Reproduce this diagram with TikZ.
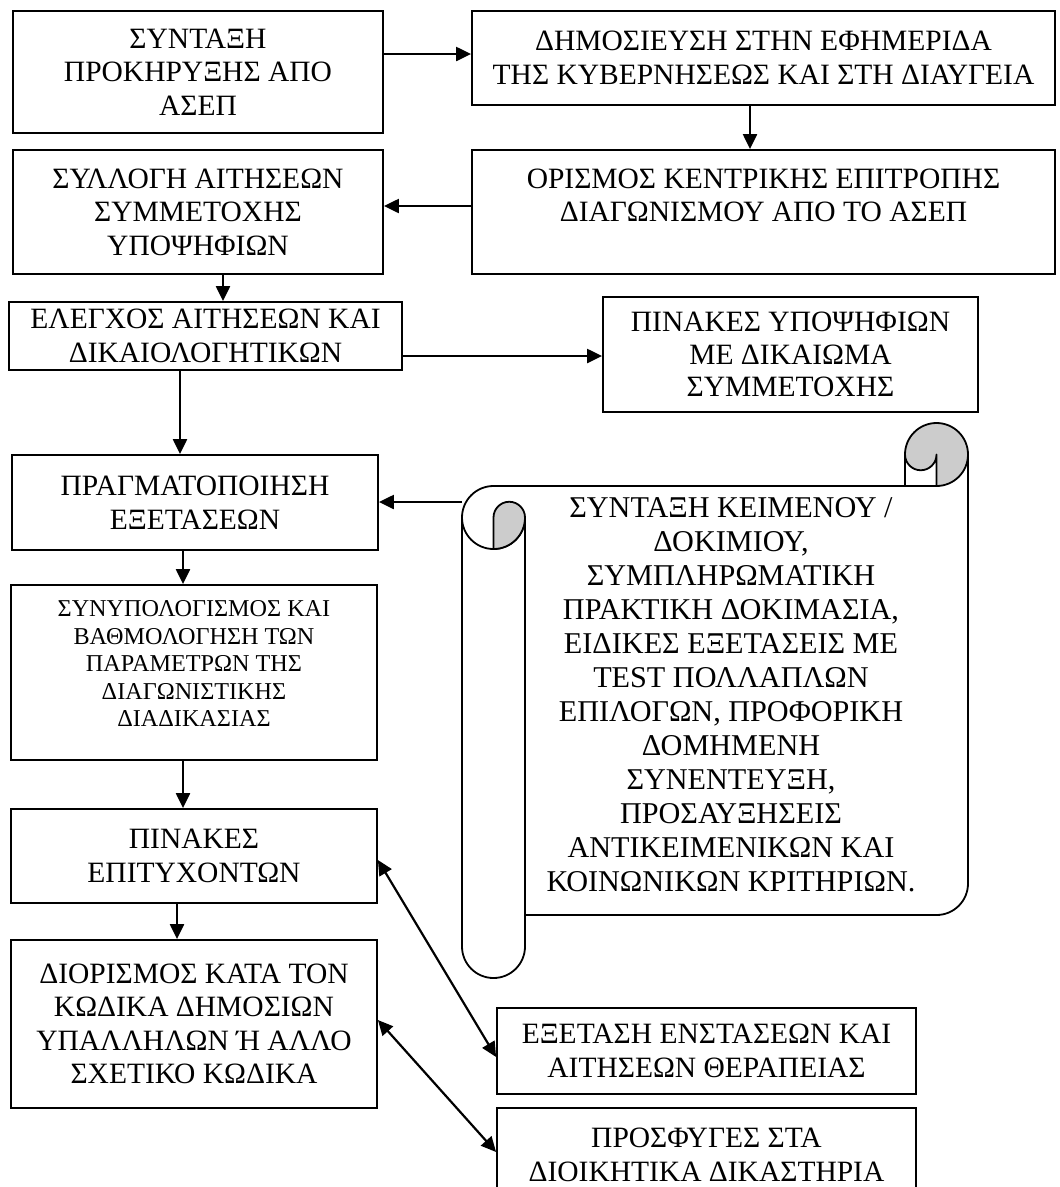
\documentclass[tikz,border=0pt]{standalone}
\usepackage{fontspec}
\setmainfont{Liberation Serif}
\usetikzlibrary{arrows.meta}
\definecolor{rollgray}{RGB}{204,204,204}
\begin{document}
\begin{tikzpicture}[x=1pt,y=-1pt,
  box/.style={draw, line width=1.8pt, align=center, inner sep=0pt,
    font=\fontsize{29.5}{33.5}\selectfont},
  arr/.style={line width=2.2pt, -{Triangle[length=15pt,width=14pt]}},
  darr/.style={line width=2.2pt, {Triangle[length=15pt,width=14pt]}-{Triangle[length=15pt,width=14pt]}},
  scrollline/.style={line width=1.8pt, line join=round}]
\useasboundingbox (0,0) rectangle (1060,1187);
\clip (0,0) rectangle (1060,1187);

% boxes
\node[box, minimum width=370, minimum height=122] (b1) at (198,72)
  {ΣΥΝΤΑΞΗ\\ΠΡΟΚΗΡΥΞΗΣ ΑΠΟ\\ΑΣΕΠ};
\node[box, minimum width=583, minimum height=94] (b2) at (763.5,58)
  {ΔΗΜΟΣΙΕΥΣΗ ΣΤΗΝ ΕΦΗΜΕΡΙΔΑ\\ΤΗΣ ΚΥΒΕΡΝΗΣΕΩΣ ΚΑΙ ΣΤΗ ΔΙΑΥΓΕΙΑ};
\node[box, minimum width=583, minimum height=124] (b3) at (763.5,212)
  {ΟΡΙΣΜΟΣ ΚΕΝΤΡΙΚΗΣ ΕΠΙΤΡΟΠΗΣ\\ΔΙΑΓΩΝΙΣΜΟΥ ΑΠΟ ΤΟ ΑΣΕΠ\\\mbox{}};
\node[box, minimum width=370, minimum height=124] (b4) at (198,212)
  {ΣΥΛΛΟΓΗ ΑΙΤΗΣΕΩΝ\\ΣΥΜΜΕΤΟΧΗΣ\\ΥΠΟΨΗΦΙΩΝ};
\node[box, minimum width=393, minimum height=68] (b5) at (205.5,336)
  {ΕΛΕΓΧΟΣ ΑΙΤΗΣΕΩΝ ΚΑΙ\\ΔΙΚΑΙΟΛΟΓΗΤΙΚΩΝ};
\node[box, minimum width=375, minimum height=115,
  font=\fontsize{29.5}{32.5}\selectfont] (b6) at (790.5,354.5)
  {ΠΙΝΑΚΕΣ ΥΠΟΨΗΦΙΩΝ\\ΜΕ ΔΙΚΑΙΩΜΑ\\ΣΥΜΜΕΤΟΧΗΣ};
\node[box, minimum width=366, minimum height=95] (b7) at (195,502.5)
  {ΠΡΑΓΜΑΤΟΠΟΙΗΣΗ\\ΕΞΕΤΑΣΕΩΝ};
\node[box, minimum width=366, minimum height=175,
  font=\fontsize{24.2}{27.5}\selectfont] (b8) at (194,672.5)
  {ΣΥΝΥΠΟΛΟΓΙΣΜΟΣ ΚΑΙ\\ΒΑΘΜΟΛΟΓΗΣΗ ΤΩΝ\\ΠΑΡΑΜΕΤΡΩΝ ΤΗΣ\\ΔΙΑΓΩΝΙΣΤΙΚΗΣ\\ΔΙΑΔΙΚΑΣΙΑΣ\\[-10pt]\mbox{}};
\node[box, minimum width=366, minimum height=94] (b9) at (194,856)
  {ΠΙΝΑΚΕΣ\\ΕΠΙΤΥΧΟΝΤΩΝ};
\node[box, minimum width=366, minimum height=168] (b10) at (194,1024)
  {ΔΙΟΡΙΣΜΟΣ ΚΑΤΑ ΤΟΝ\\ΚΩΔΙΚΑ ΔΗΜΟΣΙΩΝ\\ΥΠΑΛΛΗΛΩΝ Ή ΑΛΛΟ\\ΣΧΕΤΙΚΟ ΚΩΔΙΚΑ};
\node[box, minimum width=419, minimum height=86] (b11) at (706.5,1051)
  {ΕΞΕΤΑΣΗ ΕΝΣΤΑΣΕΩΝ ΚΑΙ\\ΑΙΤΗΣΕΩΝ ΘΕΡΑΠΕΙΑΣ};
\node[box, minimum width=419, minimum height=94] (b12) at (706.5,1155)
  {ΠΡΟΣΦΥΓΕΣ ΣΤΑ\\ΔΙΟΙΚΗΤΙΚΑ ΔΙΚΑΣΤΗΡΙΑ};

% vertical scroll shape
\begin{scope}[scrollline]
  % top edge and left roll
  \draw (936.5,486) -- (493.5,486)
        arc[start angle=270, end angle=0, radius=31.5];
  \draw (462,517.5) -- (462,946.5)
        arc[start angle=180, end angle=0, radius=31.5] -- (525,517.5);
  % bottom edge and right side
  \draw (525,915) -- (936.5,915)
        arc[start angle=90, end angle=0, radius=31.5] -- (968,454.5);
  % top roll
  \draw[fill=rollgray] (936.5,486)
        arc[start angle=90, end angle=-180, radius=31.5]
        arc[start angle=180, end angle=0, radius=15.75] -- cycle;
  \draw (905,454.5) -- (905,486);
  % left roll curl
  \draw[fill=rollgray] (493.5,549)
        arc[start angle=90, end angle=0, radius=31.5]
        arc[start angle=0, end angle=-180, radius=15.75] -- cycle;
\end{scope}
\node[align=center, inner sep=0pt, font=\fontsize{30.2}{34}\selectfont] (sc) at (731,695)
  {ΣΥΝΤΑΞΗ ΚΕΙΜΕΝΟΥ /\\ΔΟΚΙΜΙΟΥ,\\ΣΥΜΠΛΗΡΩΜΑΤΙΚΗ\\ΠΡΑΚΤΙΚΗ ΔΟΚΙΜΑΣΙΑ,\\ΕΙΔΙΚΕΣ ΕΞΕΤΑΣΕΙΣ ΜΕ\\TEST ΠΟΛΛΑΠΛΩΝ\\ΕΠΙΛΟΓΩΝ, ΠΡΟΦΟΡΙΚΗ\\ΔΟΜΗΜΕΝΗ\\ΣΥΝΕΝΤΕΥΞΗ,\\ΠΡΟΣΑΥΞΗΣΕΙΣ\\ΑΝΤΙΚΕΙΜΕΝΙΚΩΝ ΚΑΙ\\ΚΟΙΝΩΝΙΚΩΝ ΚΡΙΤΗΡΙΩΝ.};
\coordinate (scL) at (462,502);

% connectors
\draw[arr] (b1.east |- 0,54) -- (b2.west |- 0,54);
\draw[arr] (b2.south -| 750,0) -- (b3.north -| 750,0);
\draw[arr] (b3.west |- 0,206) -- (b4.east |- 0,206);
\draw[arr] (b4.south -| 223,0) -- (b5.north -| 223,0);
\draw[arr] (b5.east |- 0,356) -- (b6.west |- 0,356);
\draw[arr] (b5.south -| 180,0) -- (b7.north -| 180,0);
\draw[arr] (scL) -- (b7.east |- scL);
\draw[arr] (b7.south -| 183,0) -- (b8.north -| 183,0);
\draw[arr] (b8.south -| 183,0) -- (b9.north -| 183,0);
\draw[arr] (b9.south -| 177,0) -- (b10.north -| 177,0);
\draw[darr] (b9.east |- 0,860) -- (b11.west |- 0,1057);
\draw[darr] (b10.east |- 0,1020) -- (b12.west |- 0,1152);
\end{tikzpicture}
\end{document}
